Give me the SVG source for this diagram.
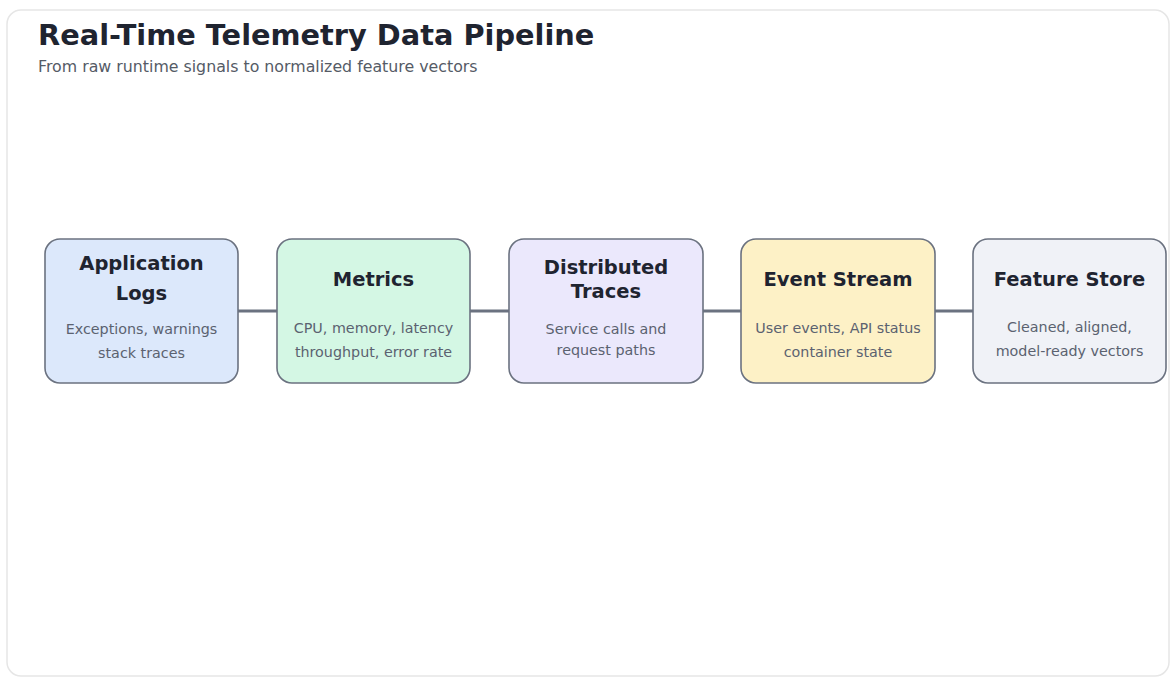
<svg xmlns="http://www.w3.org/2000/svg" width="1172" height="679" viewBox="0 0 1172 679">
<style>
.title{font-family:"DejaVu Sans",sans-serif;font-weight:bold;font-size:28.8px;fill:#1f2430}
.sub{font-family:"DejaVu Sans",sans-serif;font-size:15.8px;fill:#555b66}
.nt{font-family:"DejaVu Sans",sans-serif;font-weight:bold;font-size:19.5px;fill:#1f2430;text-anchor:middle}
.nd{font-family:"DejaVu Sans",sans-serif;font-size:14.3px;fill:#5b6270;text-anchor:middle}
.box{stroke:#6b7280;stroke-width:1.6}
.conn{stroke:#6b7280;stroke-width:3;fill:none}
</style>
<rect x="0" y="0" width="1172" height="679" fill="#ffffff"/>
<rect x="7" y="10" width="1162" height="666" rx="14" fill="#ffffff" stroke="#e6e6e6" stroke-width="1.5"/>
<text class="title" x="38" y="45">Real-Time Telemetry Data Pipeline</text>
<text class="sub" x="38" y="72">From raw runtime signals to normalized feature vectors</text>
<g id="connectors">
<line class="conn" x1="238" y1="311" x2="277" y2="311"/>
<line class="conn" x1="470" y1="311" x2="509" y2="311"/>
<line class="conn" x1="703" y1="311" x2="741" y2="311"/>
<line class="conn" x1="935" y1="311" x2="973" y2="311"/>
</g>
<g id="node-logs">
<rect class="box" x="45" y="239" width="193" height="144" rx="15" fill="#dce8fb"/>
<text class="nt" x="141.5" y="270">Application</text>
<text class="nt" x="141.5" y="300">Logs</text>
<text class="nd" x="141.5" y="334">Exceptions, warnings</text>
<text class="nd" x="141.5" y="358">stack traces</text>
</g>
<g id="node-metrics">
<rect class="box" x="277" y="239" width="193" height="144" rx="15" fill="#d4f7e4"/>
<text class="nt" x="373.5" y="286">Metrics</text>
<text class="nd" x="373.5" y="333">CPU, memory, latency</text>
<text class="nd" x="373.5" y="357">throughput, error rate</text>
</g>
<g id="node-traces">
<rect class="box" x="509" y="239" width="194" height="144" rx="15" fill="#ebe8fc"/>
<text class="nt" x="606" y="274">Distributed</text>
<text class="nt" x="606" y="298">Traces</text>
<text class="nd" x="606" y="334">Service calls and</text>
<text class="nd" x="606" y="355">request paths</text>
</g>
<g id="node-events">
<rect class="box" x="741" y="239" width="194" height="144" rx="15" fill="#fdf1c6"/>
<text class="nt" x="838" y="286">Event Stream</text>
<text class="nd" x="838" y="333">User events, API status</text>
<text class="nd" x="838" y="357">container state</text>
</g>
<g id="node-store">
<rect class="box" x="973" y="239" width="193" height="144" rx="15" fill="#f0f2f7"/>
<text class="nt" x="1069.5" y="286">Feature Store</text>
<text class="nd" x="1069.5" y="332">Cleaned, aligned,</text>
<text class="nd" x="1069.5" y="356">model-ready vectors</text>
</g>
</svg>
